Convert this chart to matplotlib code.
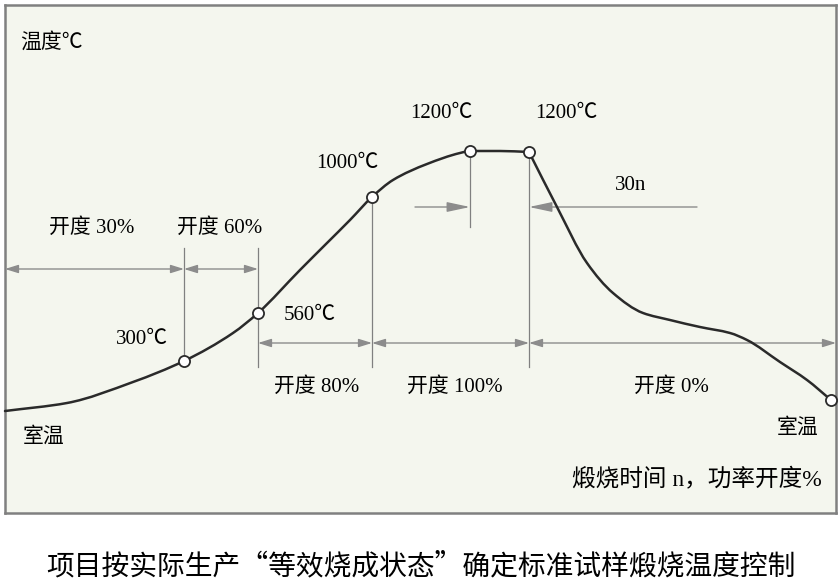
import matplotlib
matplotlib.use("Agg")
import matplotlib.pyplot as plt
from matplotlib.path import Path
from matplotlib.patches import PathPatch

plt.rcParams["font.family"] = ["Liberation Serif", "Noto Sans CJK SC"]

# schematic firing curve, units = pixels inside the frame (x right, y up)
curve_x = [0, 62, 128, 179, 228, 253, 295, 322, 345, 367, 388, 422, 455, 465, 495, 524,
           552, 582, 608, 638, 665, 695, 725, 742, 775, 802, 826]
curve_y = [102, 110, 131, 152, 180, 200, 243, 270, 293, 316, 333, 349, 360, 362, 362, 361,
           306, 250, 220, 200, 193, 186, 180, 173, 151, 133, 113]
corner_at = 15  # curve index where cooling starts (sharp bend)

# marked points (open circles)
key_x = [179, 253, 367, 465, 524, 826]
key_y = [152, 200, 316, 362, 361, 113]

# vertical guide lines: x, y_from, y_to
vline_x = [179, 253, 367, 465, 524]
vline_lo = [152, 146, 146, 286, 146]
vline_hi = [265, 265, 316, 362, 361]

# double arrows: (x0, x1, y)
span_x0 = [0, 179, 253, 367, 524]
span_x1 = [179, 253, 367, 524, 831]
span_y = [244, 244, 170, 170, 170]

# single arrows pointing at the hold period: (from_x, to_x, y)
hold_from = [410, 692]
hold_to = [465, 524]
hold_y = [306, 306]

temp_labels = ["300℃", "560℃", "1000℃", "1200℃", "1200℃"]
temp_lx = [137, 305, 342, 436, 561]
temp_ly = [173, 198, 349, 399, 399]

open_labels = ["开度 30%", "开度 60%", "开度 80%", "开度 100%", "开度 0%"]
open_lx = [87, 215, 312, 450, 666]
open_ly = [285, 285, 126, 126, 126]

bg = "#f4f6ee"
frame = "#808080"
gray = "#8c8c8c"
ink = "#2a2a2a"


def smooth_path(xs, ys):
    # monotone cubic (Fritsch-Carlson) drawn as bezier segments
    n = len(xs)
    h = [xs[i + 1] - xs[i] for i in range(n - 1)]
    d = [(ys[i + 1] - ys[i]) / h[i] for i in range(n - 1)]
    m = [d[0]] + [0.0] * (n - 2) + [d[-1]]
    for k in range(1, n - 1):
        if d[k - 1] * d[k] > 0:
            w1 = 2 * h[k] + h[k - 1]
            w2 = h[k] + 2 * h[k - 1]
            m[k] = (w1 + w2) / (w1 / d[k - 1] + w2 / d[k])
    verts = [(xs[0], ys[0])]
    codes = [Path.MOVETO]
    for i in range(n - 1):
        t = h[i] / 3
        verts += [(xs[i] + t, ys[i] + m[i] * t),
                  (xs[i + 1] - t, ys[i + 1] - m[i + 1] * t),
                  (xs[i + 1], ys[i + 1])]
        codes += [Path.CURVE4] * 3
    return Path(verts, codes)


fig = plt.figure(figsize=(8.4, 5.85), dpi=100)
ax = fig.add_axes([5 / 840, 72 / 585, 831 / 840, 508 / 585])
ax.set_xlim(0, 831)
ax.set_ylim(0, 508)
ax.set_facecolor(bg)
ax.set_xticks([])
ax.set_yticks([])
for s in ax.spines.values():
    s.set_color(frame)
    s.set_linewidth(1.8)

for a, b in [(0, corner_at + 1), (corner_at, len(curve_x))]:
    ax.add_patch(PathPatch(smooth_path(curve_x[a:b], curve_y[a:b]), fill=False,
                           edgecolor=ink, lw=1.8, zorder=4, clip_on=False,
                           capstyle="round", joinstyle="round"))

for x, lo, hi in zip(vline_x, vline_lo, vline_hi):
    ax.plot([x, x], [lo, hi], color=frame, lw=0.9, zorder=2)

for x0, x1, y in zip(span_x0, span_x1, span_y):
    ax.annotate("", xy=(x1, y), xytext=(x0, y),
                arrowprops=dict(arrowstyle="<|-|>,head_length=0.8,head_width=0.25",
                                color=gray, lw=1.0, mutation_scale=10,
                                shrinkA=0, shrinkB=0), zorder=3)

for x0, x1, y in zip(hold_from, hold_to, hold_y):
    ax.annotate("", xy=(x1, y), xytext=(x0, y),
                arrowprops=dict(arrowstyle="-|>,head_length=1.4,head_width=0.3",
                                color=gray, lw=1.0, mutation_scale=10,
                                shrinkA=0, shrinkB=0), zorder=3)

ax.plot(key_x, key_y, "o", ms=8, mfc="white", mec=ink, mew=1.3, zorder=5, clip_on=False)

fs = 15
for t, x, y in zip(temp_labels, temp_lx, temp_ly):
    ax.text(x, y, t, ha="center", va="center", fontsize=fs)
for t, x, y in zip(open_labels, open_lx, open_ly):
    ax.text(x, y, t, ha="center", va="center", fontsize=fs)

ax.text(15, 470, "温度℃", ha="left", va="center", fontsize=fs)
ax.text(39, 76, "室温", ha="center", va="center", fontsize=fs)
ax.text(793, 85, "室温", ha="center", va="center", fontsize=fs)
ax.text(626, 327, "30n", ha="center", va="center", fontsize=fs)
ax.text(817, 33, "煅烧时间 n，功率开度%", ha="right", va="center", fontsize=17)

fig.text(421 / 840, 1 - 566 / 585, "项目按实际生产“等效烧成状态”确定标准试样煅烧温度控制",
         ha="center", va="center", fontsize=20, family=["Noto Sans CJK SC"])

fig.savefig("out.png", dpi=100, facecolor="white")
